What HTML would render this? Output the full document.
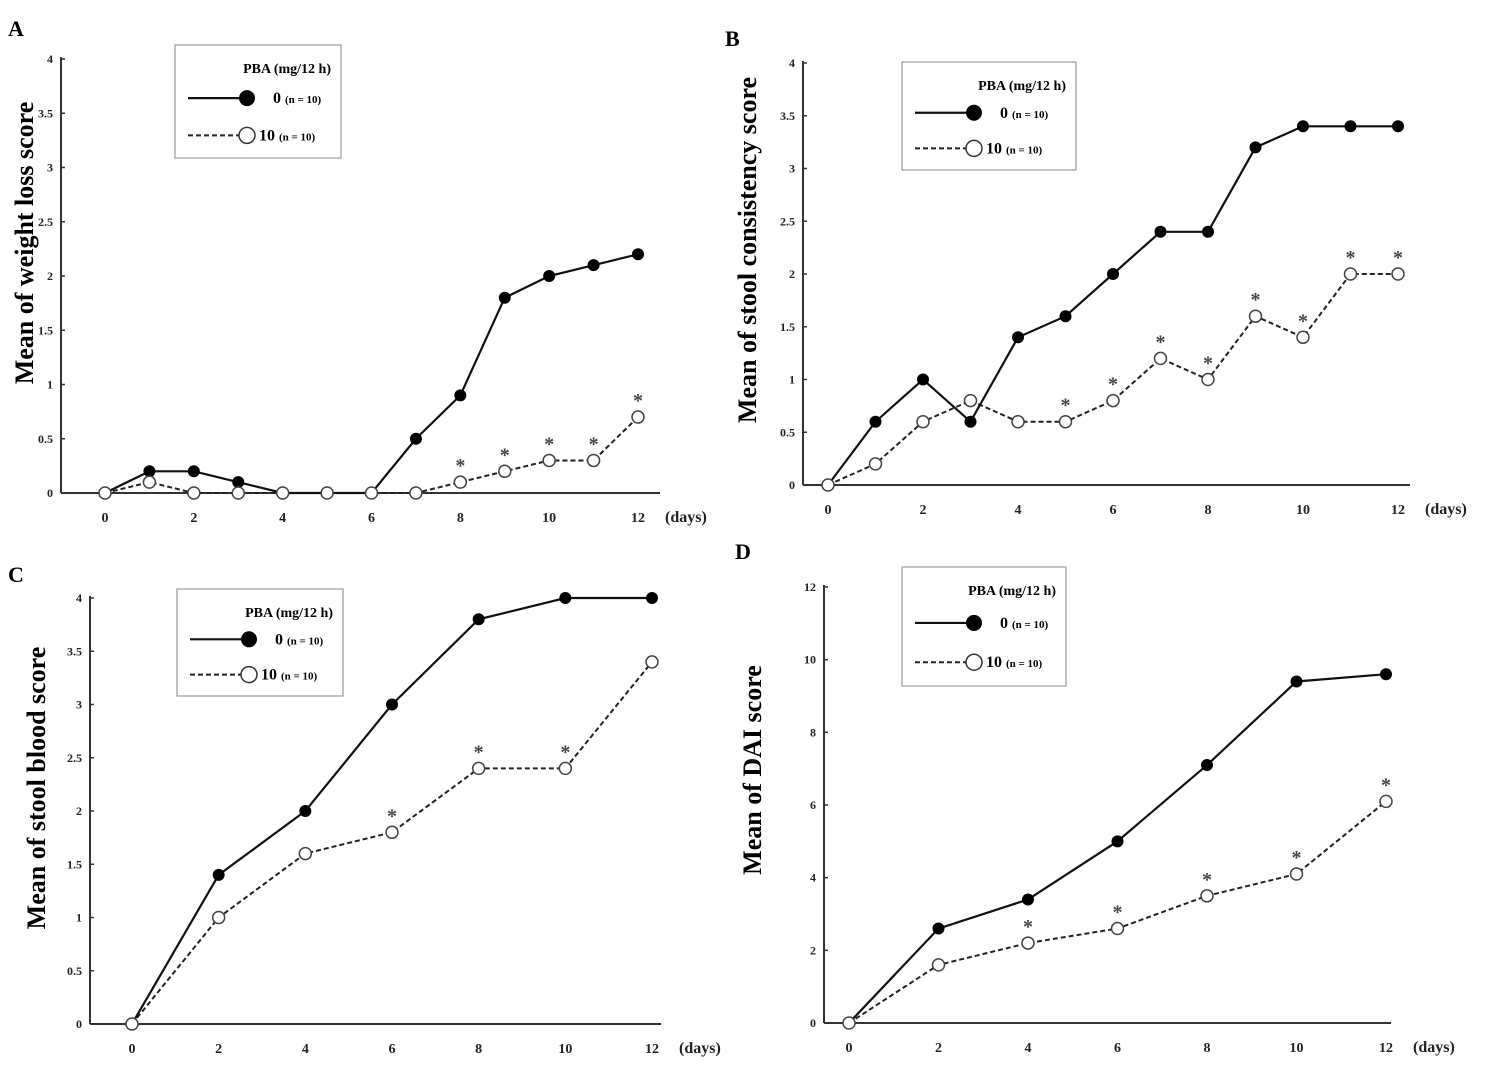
<!DOCTYPE html>
<html><head><meta charset="utf-8">
<style>
html,body{margin:0;padding:0;background:#fff;}
svg{display:block;font-family:"Liberation Serif",serif;font-weight:bold;}
</style></head>
<body>
<svg id="fig" width="1493" height="1077" viewBox="0 0 1493 1077" xmlns="http://www.w3.org/2000/svg"></svg>
<script>
// Panel A data
const daysA = [0,1,2,3,4,5,6,7,8,9,10,11,12];
const ctrlA = [0,0.2,0.2,0.1,0,0,0,0.5,0.9,1.8,2.0,2.1,2.2];
const pbaA  = [0,0.1,0,0,0,0,0,0,0.1,0.2,0.3,0.3,0.7];
const starA = [8,9,10,11,12];
const yTicksA = [0,0.5,1,1.5,2,2.5,3,3.5,4];
const xTicksA = [0,2,4,6,8,10,12];
// Panel B data
const daysB = [0,1,2,3,4,5,6,7,8,9,10,11,12];
const ctrlB = [0,0.6,1.0,0.6,1.4,1.6,2.0,2.4,2.4,3.2,3.4,3.4,3.4];
const pbaB  = [0,0.2,0.6,0.8,0.6,0.6,0.8,1.2,1.0,1.6,1.4,2.0,2.0];
const starB = [5,6,7,8,9,10,11,12];
const yTicksB = [0,0.5,1,1.5,2,2.5,3,3.5,4];
const xTicksB = [0,2,4,6,8,10,12];
// Panel C data
const daysC = [0,2,4,6,8,10,12];
const ctrlC = [0,1.4,2,3,3.8,4,4];
const pbaC  = [0,1,1.6,1.8,2.4,2.4,3.4];
const starC = [6,8,10];
const yTicksC = [0,0.5,1,1.5,2,2.5,3,3.5,4];
const xTicksC = [0,2,4,6,8,10,12];
// Panel D data
const daysD = [0,2,4,6,8,10,12];
const ctrlD = [0,2.6,3.4,5,7.1,9.4,9.6];
const pbaD  = [0,1.6,2.2,2.6,3.5,4.1,6.1];
const starD = [4,6,8,10,12];
const yTicksD = [0,2,4,6,8,10,12];
const xTicksD = [0,2,4,6,8,10,12];

const NS = "http://www.w3.org/2000/svg";
const svg = document.getElementById('fig');
function mk(tag, attrs, parent, text){
  const e = document.createElementNS(NS, tag);
  for (const k in attrs) e.setAttribute(k, attrs[k]);
  if (text !== undefined) e.textContent = text;
  (parent||svg).appendChild(e);
  return e;
}

function panel(cfg){
  const g = mk('g', {});
  
  
  const X = d => cfg.x0 + (d - 0) * (cfg.x12 - cfg.x0) / 12;
  const Y = v => cfg.y0 - v * (cfg.y0 - cfg.yTop) / cfg.yMax;
  const lt = mk('text', {x: cfg.lx, y: cfg.ly, 'font-size': 22}, g, cfg.letter);
  
  
  const ya = mk('line', {x1: cfg.ax, y1: Y(cfg.yMax)-2, x2: cfg.ax, y2: cfg.y0, stroke:'#333', 'stroke-width':2}, g);
  
  
  const xa = mk('line', {x1: cfg.ax, y1: cfg.y0, x2: cfg.axEnd, y2: cfg.y0, stroke:'#333', 'stroke-width':2}, g);
  
  
  cfg.yTicks.forEach(t => {
    mk('line', {x1: cfg.ax, y1: Y(t), x2: cfg.ax+4, y2: Y(t), stroke:'#333','stroke-width':1.5}, g);
    const tl = mk('text', {x: cfg.ax-8, y: Y(t)+4, 'font-size': 12, 'text-anchor':'end', fill:'#222'}, g, String(t));
    
    
  });
  cfg.xTicks.forEach(t => {
    const tl = mk('text', {x: X(t), y: cfg.y0+29, 'font-size': 14, 'text-anchor':'middle', fill:'#222'}, g, String(t));
    
    
  });
  const du = mk('text', {x: cfg.x12+27, y: cfg.y0+29, 'font-size': 16, fill:'#222'}, g, '(days)');
  
  
  const yt = mk('text', {x: 0, y: 0, 'font-size': cfg.tfs, 'text-anchor':'middle', transform:`translate(${cfg.tx},${cfg.ty}) rotate(-90)`}, g, cfg.title);
  
  
  const p1 = cfg.days.map((d,i)=>X(d)+','+Y(cfg.ctrl[i])).join(' ');
  const p2 = cfg.days.map((d,i)=>X(d)+','+Y(cfg.pba[i])).join(' ');
  const l2 = mk('polyline', {points:p2, fill:'none', stroke:'#222','stroke-width':2,'stroke-dasharray':'5,3'}, g);
  
  
  const l1 = mk('polyline', {points:p1, fill:'none', stroke:'#111','stroke-width':2.2}, g);
  
  
  cfg.days.forEach((d,i)=>{
    const c = mk('circle', {cx:X(d), cy:Y(cfg.ctrl[i]), r:6, fill:'#000'}, g);
    
    
  });
  cfg.days.forEach((d,i)=>{
    const c = mk('circle', {cx:X(d), cy:Y(cfg.pba[i]), r:6, fill:'#fff', stroke:'#444','stroke-width':1.5}, g);
    
    
  });
  cfg.stars.forEach(d=>{
    const i = cfg.days.indexOf(d);
    const s = mk('text', {x:X(d), y:Y(cfg.pba[i])-10, 'font-size':20, 'text-anchor':'middle', fill:'#444'}, g, '*');
    
    
  });
  const L = cfg.leg;
  const lg = mk('g', {}, g);
  
  
  mk('rect', {x:L.x, y:L.y, width:L.w, height:L.h, fill:'#fff', stroke:'#999','stroke-width':1.2}, lg);
  mk('text', {x:L.x+L.w-10, y:L.y+28, 'font-size':14, 'text-anchor':'end'}, lg, 'PBA (mg/12 h)');
  const r1 = L.y + L.h*0.47, r2 = L.y + L.h*0.8;
  const e1 = mk('g', {}, lg);
  
  
  mk('line', {x1:L.x+13, y1:r1, x2:L.x+70, y2:r1, stroke:'#111','stroke-width':2.2}, e1);
  mk('circle', {cx:L.x+72, cy:r1, r:8, fill:'#000'}, e1);
  const t1 = mk('text', {x:L.x+98, y:r1+5, 'font-size':16}, e1, '0 ');
  mk('tspan', {'font-size':11}, t1, '(n = 10)');
  const e2 = mk('g', {}, lg);
  
  
  mk('line', {x1:L.x+13, y1:r2, x2:L.x+64, y2:r2, stroke:'#222','stroke-width':2,'stroke-dasharray':'5,3'}, e2);
  mk('circle', {cx:L.x+72, cy:r2, r:8, fill:'#fff', stroke:'#333','stroke-width':1.5}, e2);
  const t2 = mk('text', {x:L.x+84, y:r2+5, 'font-size':16}, e2, '10 ');
  mk('tspan', {'font-size':11}, t2, '(n = 10)');
}

panel({letter:'A', lx:8, ly:36, ax:61, axEnd:660, x0:105, x12:638, y0:493, yTop:59, yMax:4,
  days:daysA, ctrl:ctrlA, pba:pbaA, stars:starA, yTicks:yTicksA, xTicks:xTicksA,
  title:'Mean of weight loss score', tfs:26, tx:33, ty:243, leg:{x:175,y:45,w:166,h:113}});
panel({letter:'B', lx:725, ly:46, ax:803, axEnd:1410, x0:828, x12:1398, y0:485, yTop:63, yMax:4,
  days:daysB, ctrl:ctrlB, pba:pbaB, stars:starB, yTicks:yTicksB, xTicks:xTicksB,
  title:'Mean of stool consistency score', tfs:26, tx:756, ty:250, leg:{x:902,y:62,w:174,h:108}});
panel({letter:'C', lx:8, ly:582, ax:90, axEnd:661, x0:132, x12:652, y0:1024, yTop:598, yMax:4,
  days:daysC, ctrl:ctrlC, pba:pbaC, stars:starC, yTicks:yTicksC, xTicks:xTicksC,
  title:'Mean of stool blood score', tfs:26, tx:45, ty:788, leg:{x:177,y:589,w:166,h:107}});
panel({letter:'D', lx:735, ly:559, ax:824, axEnd:1391, x0:849, x12:1386, y0:1023, yTop:587, yMax:12,
  days:daysD, ctrl:ctrlD, pba:pbaD, stars:starD, yTicks:yTicksD, xTicks:xTicksD,
  title:'Mean of DAI score', tfs:26, tx:761, ty:770, leg:{x:902,y:567,w:164,h:119}});
</script>
</body></html>
